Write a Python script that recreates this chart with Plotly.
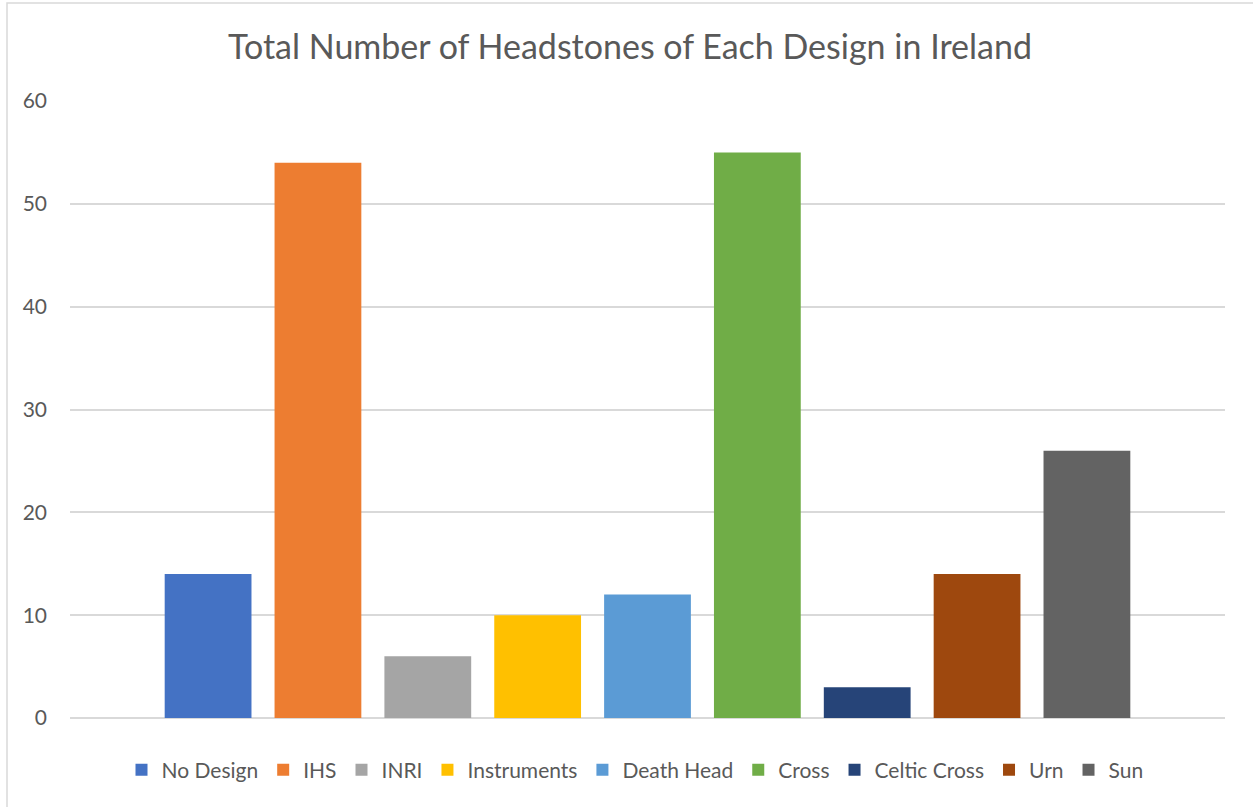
import plotly.graph_objects as go

series = ["No Design", "IHS", "INRI", "Instruments", "Death Head", "Cross", "Celtic Cross", "Urn", "Sun"]
values = [14, 54, 6, 10, 12, 55, 3, 14, 26]
colors = ["#4472C4", "#ED7D31", "#A5A5A5", "#FFC000", "#5B9BD5", "#70AD47", "#264478", "#9E480E", "#636363"]
category = ["Total"]
yticks = [0, 10, 20, 30, 40, 50, 60]

FONT = "Lato"
TXT = "#595959"

fig = go.Figure()
for name, v, c in zip(series, values, colors):
    fig.add_trace(go.Bar(name=name, x=category, y=[v], marker=dict(color=c, line=dict(width=0))))

W, H = 1253, 807
L, R, T, B = 70, 28, 101, 89
pw, ph = W - L - R, H - T - B

def px(xp):
    return (xp - L) / pw

def py(yp):
    return (H - B - yp) / ph

fig.update_layout(
    width=W, height=H,
    margin=dict(l=L, r=R, t=T, b=B),
    paper_bgcolor="white", plot_bgcolor="white",
    barmode="group", bargap=0.144, bargroupgap=0.21,
    title=dict(text="Total Number of Headstones of Each Design in Ireland",
               x=(630) / W, xanchor="center", y=1 - 47 / H, yanchor="middle",
               font=dict(family=FONT, size=34, color=TXT)),
    font=dict(family=FONT, color=TXT, size=21),
    showlegend=True,
    legend=dict(orientation="h", x=px(635), xanchor="center", y=py(770), yanchor="middle",
                font=dict(family=FONT, size=21, color=TXT), itemwidth=30,
                traceorder="normal"),
    xaxis=dict(showticklabels=False, showgrid=False, zeroline=False, showline=False, ticks=""),
    yaxis=dict(range=[0, 60], tickvals=yticks, showgrid=True, gridcolor="#D9D9D9", gridwidth=1.5,
               zeroline=True, zerolinecolor="#D9D9D9", zerolinewidth=1.5, showline=False,
               ticks="", ticklabelstandoff=22,
               tickfont=dict(family=FONT, size=21, color=TXT)),
    shapes=[dict(type="rect", xref="paper", yref="paper",
                 x0=px(7), x1=px(1270), y0=py(830), y1=py(3),
                 line=dict(color="#D9D9D9", width=1.5), fillcolor="rgba(0,0,0,0)", layer="below")],
)

fig.write_html("out.html")
